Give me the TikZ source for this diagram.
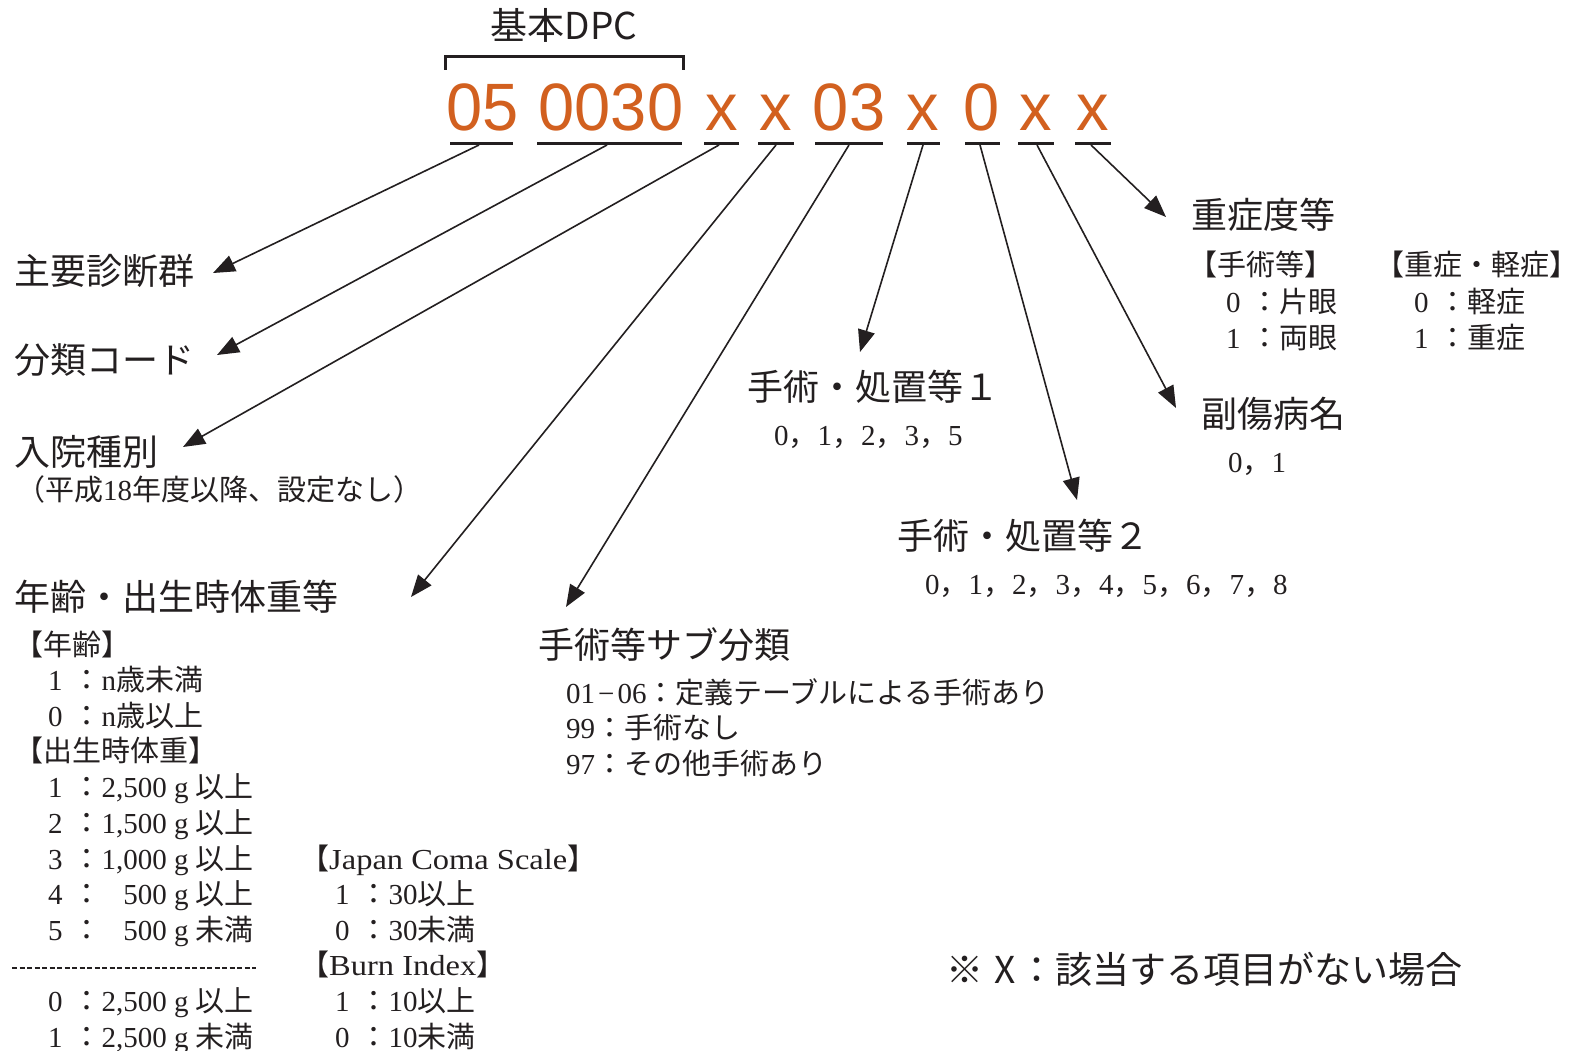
\documentclass[tikz,border=0pt]{standalone}
\usepackage{fontspec}
\setmainfont{Liberation Serif}
\newfontfamily\cj{Noto Sans CJK JP}
\newfontfamily\widefont[FakeStretch=1.12]{Liberation Serif}
\newfontfamily\codefont[FakeStretch=0.97]{Liberation Sans}
\usetikzlibrary{arrows.meta}
\definecolor{ink}{HTML}{231F20}
\definecolor{codeor}{HTML}{D2601F}
\newcommand\cl{{\cj ：}}
\newcommand\cm{{\cj ，}}
\newcommand\dg[1]{#1\hspace{10pt}\cl}
\tikzset{
  head/.style={anchor=base west, inner sep=0pt, font=\cj\fontsize{36}{36}\selectfont, text=ink},
  det/.style={anchor=base west, inner sep=0pt, font=\fontsize{29}{29}\selectfont, text=ink},
  codetxt/.style={anchor=base, inner sep=0pt, font=\codefont\fontsize{67}{67}\selectfont, text=codeor},
  uline/.style={line width=3pt, draw=ink},
  arr/.style={line width=1.6pt, draw=ink, -{Triangle[length=22pt,width=17pt]}},
}
\begin{document}
\begin{tikzpicture}[x=1pt,y=-1pt]
\useasboundingbox (0,0) rectangle (1576,1051);
\fill[white] (0,0) rectangle (1576,1051);

% title and bracket
\node[anchor=center, inner sep=0pt, font=\cj\fontsize{37}{37}\selectfont, text=ink] (kihon) at (564,25) {基本DPC};
\draw[line width=3pt, draw=ink] (445,70) -- (445,57) -- (683,57) -- (683,70);

% code groups
\node[codetxt] (c1) at (483,131) {05};
\node[codetxt] (c2) at (611,131) {0030};
\node[codetxt] (c3) at (722,131) {x};
\node[codetxt] (c4) at (776,131) {x};
\node[codetxt] (c5) at (849,131) {03};
\node[codetxt] (c6) at (923,131) {x};
\node[codetxt] (c7) at (982,131) {0};
\node[codetxt] (c8) at (1036,131) {x};
\node[codetxt] (c9) at (1093,131) {x};

% underlines
\draw[uline] (450,144) -- (513,144);
\draw[uline] (537,144) -- (682,144);
\draw[uline] (704,144) -- (739,144);
\draw[uline] (758,144) -- (794,144);
\draw[uline] (815,144) -- (883,144);
\draw[uline] (907,144) -- (940,144);
\draw[uline] (965,144) -- (1000,144);
\draw[uline] (1018,144) -- (1054,144);
\draw[uline] (1075,144) -- (1111,144);

% arrow start / end points
\coordinate (s1) at (479,145);
\coordinate (s2) at (607,145);
\coordinate (s3) at (719,145);
\coordinate (s4) at (776,145);
\coordinate (s5) at (849,145);
\coordinate (s6) at (923,145);
\coordinate (s7) at (980,145);
\coordinate (s8) at (1037,145);
\coordinate (s9) at (1091,145);

\coordinate (t1) at (213,273);
\coordinate (t2) at (217,355);
\coordinate (t3) at (183,447);
\coordinate (t4) at (411,597);
\coordinate (t5) at (566,607);
\coordinate (t6) at (860,352);
\coordinate (t7) at (1077,500);
\coordinate (t8) at (1176,408);
\coordinate (t9) at (1166,217);

\draw[arr] (s1) -- (t1);
\draw[arr] (s2) -- (t2);
\draw[arr] (s3) -- (t3);
\draw[arr] (s4) -- (t4);
\draw[arr] (s5) -- (t5);
\draw[arr] (s6) -- (t6);
\draw[arr] (s7) -- (t7);
\draw[arr] (s8) -- (t8);
\draw[arr] (s9) -- (t9);

% left headings
\node[head] (h1) at (14,284) {主要診断群};
\node[head] (h2) at (14,373) {分類コード};
\node[head] (h3) at (14,465) {入院種別};
\node[det] (h3n) at (16,500) {{\cj （平成}18{\cj 年度以降、設定なし）}};
\node[head] (h4) at (14,610) {年齢・出生時体重等};

% age / weight block
\node[det] (a0) at (14,655) {{\cj 【年齢】}};
\node[det] (a1) at (48,690.5) {\dg{1}n{\cj 歳未満}};
\node[det] (a2) at (48,726) {\dg{0}n{\cj 歳以上}};
\node[det] (a3) at (14,761.5) {{\cj 【出生時体重】}};
\node[det] (a4) at (48,797.5) {\dg{1}2,500 g {\cj 以上}};
\node[det] (a5) at (48,833) {\dg{2}1,500 g {\cj 以上}};
\node[det] (a6) at (48,869) {\dg{3}1,000 g {\cj 以上}};
\node[det] (a7) at (48,904.5) {\dg{4}\phantom{2,}500 g {\cj 以上}};
\node[det] (a8) at (48,940) {\dg{5}\phantom{2,}500 g {\cj 未満}};
\draw[line width=1.3pt, draw=ink, dash pattern=on 5pt off 2.5pt] (12,968) -- (256,968);
\node[det] (a9) at (48,1011.5) {\dg{0}2,500 g {\cj 以上}};
\node[det] (a10) at (48,1047) {\dg{1}2,500 g {\cj 未満}};

% JCS / Burn index
\node[det] (j0) at (300,869) {{\cj 【}{\widefont Japan Coma Scale}{\cj 】}};
\node[det] (j1) at (335,904.5) {\dg{1}30{\cj 以上}};
\node[det] (j2) at (335,940) {\dg{0}30{\cj 未満}};
\node[det] (b0) at (300,975.5) {{\cj 【}{\widefont Burn Index}{\cj 】}};
\node[det] (b1) at (335,1011.5) {\dg{1}10{\cj 以上}};
\node[det] (b2) at (335,1047) {\dg{0}10{\cj 未満}};

% surgery sub-class
\node[head] (h5) at (538,658) {手術等サブ分類};
\node[det] (u1) at (566,703) {01\hspace{3pt}−\hspace{3pt}06\cl{\cj 定義テーブルによる手術あり}};
\node[det] (u2) at (566,738) {99\cl{\cj 手術なし}};
\node[det] (u3) at (566,774) {97\cl{\cj その他手術あり}};

% procedures 1 / 2
\node[head] (h6) at (747,400) {手術・処置等１};
\node[det] (p1) at (774,445) {0\cm 1\cm 2\cm 3\cm 5};
\node[head] (h7) at (897,549) {手術・処置等２};
\node[det] (p2) at (925,594) {0\cm 1\cm 2\cm 3\cm 4\cm 5\cm 6\cm 7\cm 8};

% secondary diagnosis
\node[head] (h8) at (1201,427) {副傷病名};
\node[det] (q1) at (1228,472) {0\cm 1};

% severity
\node[head] (h9) at (1191,229) {重症度等};
\node[det] (r0) at (1188,275) {{\cj 【手術等】}};
\node[det] (r1) at (1226,312) {\dg{0}{\cj 片眼}};
\node[det] (r2) at (1226,348) {\dg{1}{\cj 両眼}};
\node[det] (r3) at (1375,275) {{\cj 【重症・軽症】}};
\node[det] (r4) at (1414,312) {\dg{0}{\cj 軽症}};
\node[det] (r5) at (1414,348) {\dg{1}{\cj 重症}};

% note
\node[head, font=\cj\fontsize{37}{37}\selectfont] (note) at (946,983) {※\hspace{11pt}X\hspace{3pt}：該当する項目がない場合};
\end{tikzpicture}
\end{document}
